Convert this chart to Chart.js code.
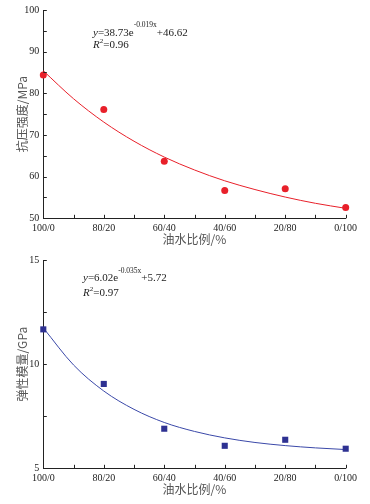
<!DOCTYPE html>
<html>
<head>
<meta charset="utf-8">
<script src="https://cdn.jsdelivr.net/npm/chart.js@4"></script>
<style>
html,body{margin:0;padding:0;background:#fff;}
canvas{display:block;}
</style>
</head>
<body>
<canvas id="c1" width="370" height="250"></canvas>
<canvas id="c2" width="370" height="254"></canvas>
<script>
// ---- data ----
const categories = ['100/0', '80/20', '60/40', '40/60', '20/80', '0/100'];
const waterPct = [0, 20, 40, 60, 80, 100];
const strength = [84.4, 76.1, 63.7, 56.7, 57.1, 52.6];          // MPa
const modulus = [11.67, 9.05, 6.9, 6.08, 6.37, 5.94];            // GPa
const fitX = [0, 10, 20, 30, 40, 50, 60, 70, 80, 90, 100];
const strengthFit = [85.4, 78.7, 73.1, 68.5, 64.7, 61.6, 59.0, 56.9, 55.1, 53.6, 52.4];
const modulusFit = [11.74, 9.96, 8.71, 7.83, 7.20, 6.77, 6.46, 6.24, 6.09, 5.98, 5.90];
const xTitle = '油水比例/%';
const yTitleStrength = '抗压强度/MPa';
const yTitleModulus = '弹性模量/GPa';
const eqStrength = { a: '38.73', k: '-0.019x', c: '+46.62', r2: '0.96' };
const eqModulus = { a: '6.02', k: '-0.035x', c: '+5.72', r2: '0.97' };

const SERIF = '"Liberation Serif", "Times New Roman", serif';
const CJK = '"Noto Sans CJK SC", sans-serif';
const INK = '#222';

const innerTicks = {
  id: 'innerTicks',
  afterDraw(chart, args, o) {
    const ctx = chart.ctx;
    const xs = chart.scales.x, ys = chart.scales.y;
    ctx.save();
    ctx.strokeStyle = INK;
    ctx.lineWidth = 1;
    ctx.beginPath();
    for (let v = xs.min; v <= xs.max + 1e-9; v += o.xMinor) {
      const px = Math.round(xs.getPixelForValue(v)) + 0.5;
      ctx.moveTo(px, ys.bottom);
      ctx.lineTo(px, ys.bottom - 3.5);
    }
    for (let v = ys.min; v <= ys.max + 1e-9; v += o.yMinor) {
      const py = Math.round(ys.getPixelForValue(v)) + 0.5;
      ctx.moveTo(xs.left, py);
      ctx.lineTo(xs.left + 3.5, py);
    }
    ctx.stroke();
    ctx.restore();
  }
};

const equation = {
  id: 'equation',
  afterDraw(chart, args, o) {
    const ctx = chart.ctx;
    ctx.save();
    ctx.fillStyle = INK;
    ctx.textBaseline = 'alphabetic';
    let x = o.x;
    ctx.font = 'italic 11px ' + SERIF;
    ctx.fillText('y', x, o.y); x += ctx.measureText('y').width;
    ctx.font = '11px ' + SERIF;
    const s1 = '=' + o.eq.a + 'e';
    ctx.fillText(s1, x, o.y); x += ctx.measureText(s1).width;
    ctx.font = '7.5px ' + SERIF;
    ctx.fillText(o.eq.k, x, o.y - o.sup); x += ctx.measureText(o.eq.k).width;
    ctx.font = '11px ' + SERIF;
    ctx.fillText(o.eq.c, x, o.y);
    // R^2 line
    x = o.x;
    ctx.font = 'italic 11px ' + SERIF;
    ctx.fillText('R', x, o.y + o.gap); x += ctx.measureText('R').width;
    ctx.font = '7px ' + SERIF;
    ctx.fillText('2', x, o.y + o.gap - 5); x += ctx.measureText('2').width;
    ctx.font = '11px ' + SERIF;
    ctx.fillText('=' + o.eq.r2, x, o.y + o.gap);
    ctx.restore();
  }
};

function makeChart(id, pts, fit, color, lineColor, style, radius, yMin, yMax, yStep, yMinor, yTitle, eq, eqPos, canvasH, titlePadBottom) {
  const areaBottom = 218.3;
  return new Chart(document.getElementById(id), {
    type: 'scatter',
    data: {
      datasets: [
        {
          type: 'line',
          data: fitX.map((x, i) => ({ x: x, y: fit[i] })),
          borderColor: lineColor,
          borderWidth: 1,
          pointRadius: 0,
          cubicInterpolationMode: 'monotone',
          fill: false,
          clip: false,
          order: 2
        },
        {
          data: waterPct.map((x, i) => ({ x: x, y: pts[i] })),
          pointStyle: style,
          pointRadius: radius,
          pointBackgroundColor: color,
          pointBorderColor: color,
          pointBorderWidth: 0,
          clip: false,
          order: 1
        }
      ]
    },
    options: {
      responsive: false,
      animation: false,
      events: [],
      layout: { padding: { top: 9.3, right: 24.3, left: 0, bottom: 0 } },
      plugins: {
        legend: { display: false },
        tooltip: { enabled: false },
        innerTicks: { xMinor: 10, yMinor: yMinor },
        equation: { eq: eq, x: eqPos[0], y: eqPos[1], sup: eqPos[2], gap: eqPos[3] }
      },
      scales: {
        x: {
          type: 'linear',
          min: 0, max: 100,
          grid: { display: false, drawTicks: false },
          border: { display: true, color: INK, width: 1 },
          ticks: {
            stepSize: 20,
            color: INK,
            padding: 4,
            maxRotation: 0,
            font: { family: SERIF, size: 10 },
            callback: (v) => categories[waterPct.indexOf(v)]
          },
          title: {
            display: true, text: xTitle, color: '#555',
            font: { family: CJK, size: 12 },
            padding: { top: 0, bottom: titlePadBottom }
          },
          afterFit: (s) => { s.height = canvasH - areaBottom; }
        },
        y: {
          type: 'linear',
          min: yMin, max: yMax,
          grid: { display: false, drawTicks: false },
          border: { display: true, color: INK, width: 1 },
          ticks: {
            stepSize: yStep,
            color: INK,
            padding: 4,
            font: { family: SERIF, size: 10 }
          },
          title: {
            display: true, text: yTitle, color: '#555',
            font: { family: CJK, size: 12 },
            padding: { top: 15.3, bottom: 0 }
          },
          afterFit: (s) => { s.width = 43.3; }
        }
      }
    },
    plugins: [innerTicks, equation]
  });
}

makeChart('c1', strength, strengthFit, '#e8202a', '#e8202a', 'circle', 3.5,
  50, 100, 10, 5, yTitleStrength, eqStrength, [93, 36, 9.5, 11.5], 250, 3.8);
makeChart('c2', modulus, modulusFit, '#2e3192', '#3a48a8', 'rect', 4.3,
  5, 15, 5, 2.5, yTitleModulus, eqModulus, [83, 31, 8, 15], 254, 7.8);
</script>
</body>
</html>
